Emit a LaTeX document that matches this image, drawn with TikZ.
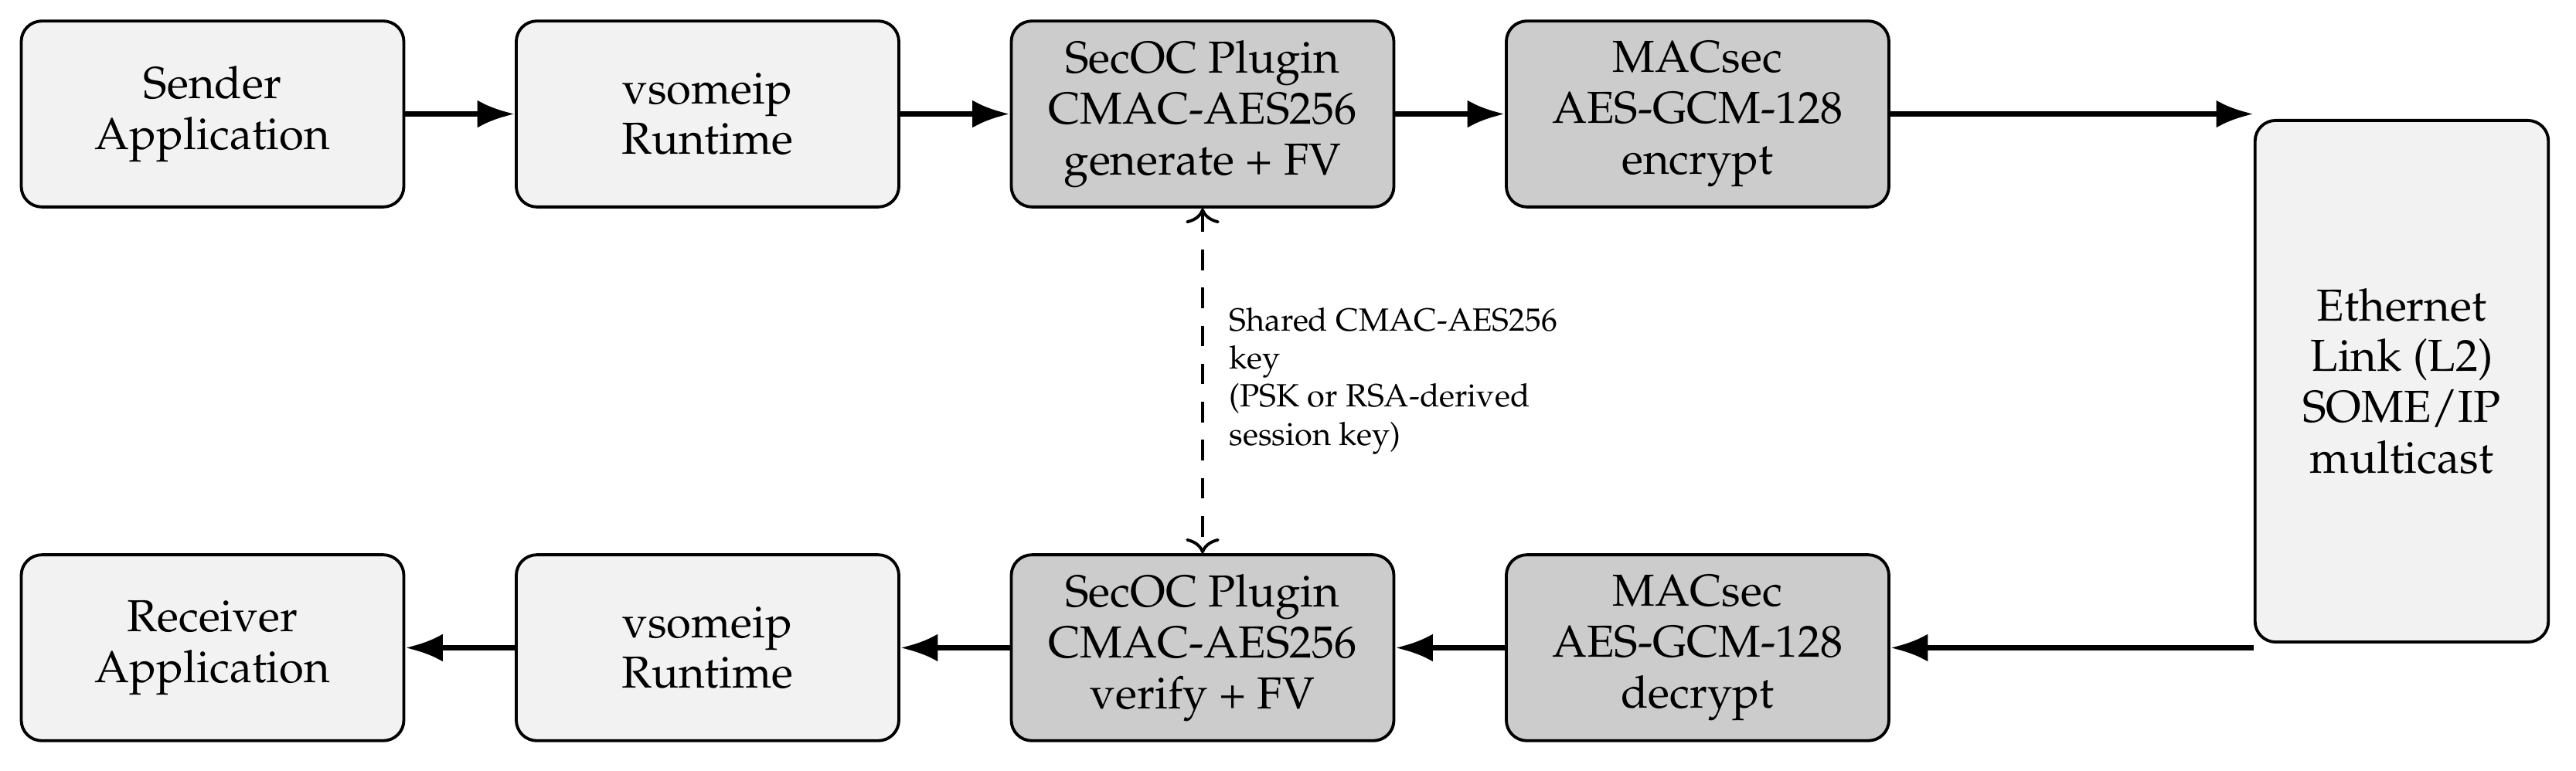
\documentclass[tikz,border=0pt]{standalone}
\usepackage[T1]{fontenc}
\usepackage{mathpazo}
\usepackage{tikz}
\usetikzlibrary{arrows.meta,positioning,calc}
\definecolor{BoxLight}{gray}{0.95}
\definecolor{BoxDark}{gray}{0.8}

\begin{document}
\begin{tikzpicture}[
  box/.style={draw,thick,rounded corners=5.5pt,fill=BoxLight,align=center,
    minimum width=3.6cm,minimum height=1.75cm,font={\fontsize{12}{13.6}\selectfont}},
  secbox/.style={box,fill=BoxDark},
  flow/.style={-{Latex[length=10pt,width=7.4pt]},line width=1.6pt},
  keylink/.style={{To[length=4pt,width=9pt]}-{To[length=4pt,width=9pt]},thick,
    dash pattern=on 5.5pt off 4.7pt},
  keynote/.style={align=left,font={\fontsize{8.6}{10.2}\selectfont}}
]
  \useasboundingbox (0,0) rectangle (24.24,-7.251);

  \node[box] (send) at (2.0,-1.073) {Sender\\Application};
  \node[box,right=1.03cm of send] (rtx) {vsomeip\\Runtime};
  \node[secbox,right=1.03cm of rtx] (secg) {SecOC Plugin\\CMAC-AES256\\generate + FV};
  \node[secbox,right=1.03cm of secg] (enc) {MACsec\\AES-GCM-128\\encrypt};

  \node[box] (recv) at (2.0,-6.098) {Receiver\\Application};
  \node[box,right=1.03cm of recv] (rrx) {vsomeip\\Runtime};
  \node[secbox,right=1.03cm of rrx] (secv) {SecOC Plugin\\CMAC-AES256\\verify + FV};
  \node[secbox,right=1.03cm of secv] (dec) {MACsec\\AES-GCM-128\\decrypt};

  \node[box,minimum width=2.76cm,minimum height=4.91cm] (eth) at (22.6,-3.589)
    {Ethernet\\Link (L2)\\SOME/IP\\multicast};

  \draw[flow] (send) -- (rtx);
  \draw[flow] (rtx) -- (secg);
  \draw[flow] (secg) -- (enc);
  \draw[flow] (enc) -- (enc -| eth.west);
  \draw[flow] (dec -| eth.west) -- (dec);
  \draw[flow] (dec) -- (secv);
  \draw[flow] (secv) -- (rrx);
  \draw[flow] (rrx) -- (recv);

  \draw[keylink] (secg) -- node[keynote,right=0.12cm]
    {Shared CMAC-AES256\\key\\(PSK or RSA-derived\\session key)} (secv);
\end{tikzpicture}
\end{document}
